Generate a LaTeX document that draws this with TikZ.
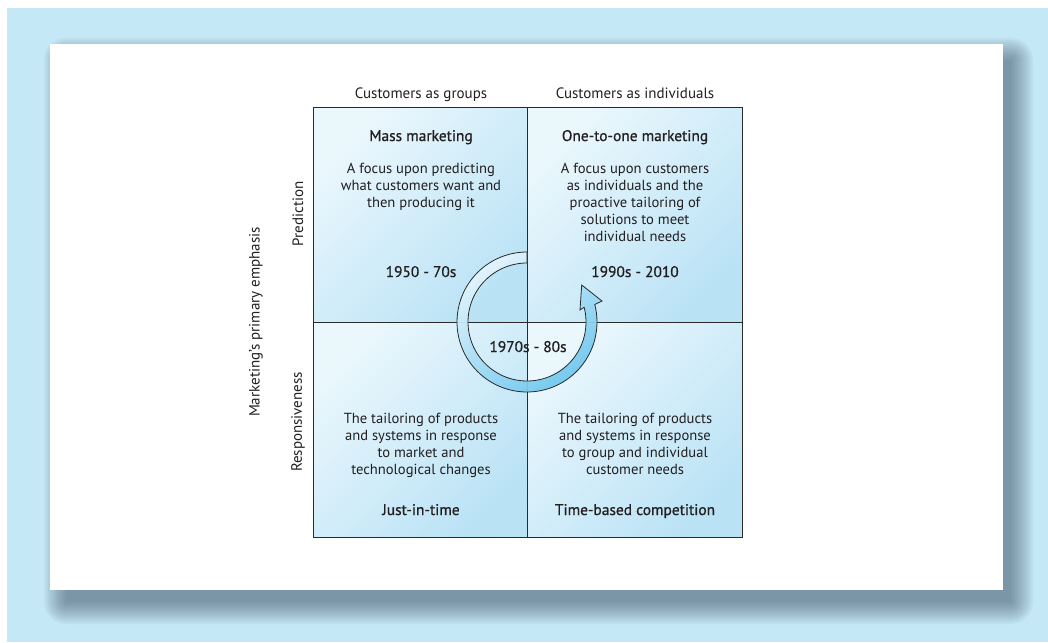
\documentclass[tikz,border=0pt]{standalone}
\usepackage{fontspec}
\setmainfont{PT Sans}
\newfontfamily\hfont[FakeBold=0.8]{PT Sans}
\definecolor{bg}{HTML}{C5E8F7}
\definecolor{shadowc}{HTML}{28394A}
\definecolor{txt}{HTML}{231F20}
\definecolor{qa}{HTML}{EAF7FD}
\definecolor{qb}{HTML}{B5E1F5}
\definecolor{ringa}{HTML}{E4F5FD}
\definecolor{ringb}{HTML}{6CC6EE}
\definecolor{gridc}{HTML}{2A2A2A}
\tikzset{
  lbl/.style={text=txt, font=\fontsize{15}{17}\selectfont, inner sep=0pt, anchor=base},
  body/.style={text=txt, font=\fontsize{14.6}{17}\selectfont, inner sep=0pt, anchor=base, align=center},
  head/.style={text=txt, font=\hfont\fontsize{15.4}{18}\selectfont, inner sep=0pt, anchor=base},
  gridline/.style={draw=gridc, line width=0.8pt},
}
\begin{document}
\begin{tikzpicture}[x=1pt,y=-1pt]
\useasboundingbox (0,0) rectangle (1048,642);
\fill[white] (0,0) rectangle (1048,642);
\fill[bg] (7,8) rectangle (1048,642);
% soft shadow
\foreach \e in {0,2,...,22}
  \fill[shadowc, opacity=0.047, rounded corners=\e pt] ({66-\e},{60-\e}) rectangle ({1011+\e},{602+\e});
\fill[white] (50,44) rectangle (1003,590);
% quadrants
\foreach \xa/\ya/\xb/\yb in {313/107/527/322, 527/107/742/322, 313/322/527/537, 527/322/742/537}
  \shade[top color=qa, bottom color=qb, shading angle=45] (\xa,\ya) rectangle (\xb,\yb);
\begin{scope}
  \clip (313,107) rectangle (742,537);
  \foreach \i in {0,3,...,870}
    \draw[white, opacity=0.22, line width=0.5pt] ({313+\i-430},537) -- ({313+\i},107);
\end{scope}
\draw[gridline] (313,107) rectangle (742,537);
\draw[gridline] (527,107) -- (527,537);
\draw[gridline] (313,322) -- (742,322);
% circular arrow
\shade[draw=gridc, line width=0.8pt, top color=ringa, bottom color=ringb, shading angle=35, fill opacity=0.93]
  plot[domain=270:-14.5, samples=90] ({527+70*cos(\x)},{322+70*sin(\x)})
  -- (602,301) -- (581.7,285) -- (580,310)
  -- plot[domain=-14.5:270, samples=90] ({527+59*cos(\x)},{322+59*sin(\x)}) -- cycle;
% axis labels
\node[lbl] (cg) at (421,98) {Customers as groups};
\node[lbl] (ci) at (635,98) {Customers as individuals};
\node[lbl, rotate=90, anchor=center] (pred) at (298,214) {Prediction};
\node[lbl, rotate=90, anchor=center] (resp) at (298,422) {Responsiveness};
\node[lbl, rotate=90, anchor=center] (mpe) at (256,322) {Marketing’s primary emphasis};
% quadrant texts
\node[head] (mm) at (421,141) {Mass marketing};
\node[body] (mmt) at (421,207) {A focus upon predicting\\what customers want and\\then producing it};
\node[head] (y1) at (421,277) {1950 - 70s};
\node[head] (oo) at (635,141) {One-to-one marketing};
\node[body] (oot) at (635,241) {A focus upon customers\\as individuals and the\\proactive tailoring of\\solutions to meet\\individual needs};
\node[head] (y3) at (635,277) {1990s - 2010};
\node[head] (y2) at (528,352) {1970s - 80s};
\node[body] (jt) at (421,474) {The tailoring of products\\and systems in response\\to market and\\technological changes};
\node[head] (jit) at (421,515) {Just-in-time};
\node[body] (tt) at (635,474) {The tailoring of products\\and systems in response\\to group and individual\\customer needs};
\node[head] (tbc) at (635,515) {Time-based competition};
\end{tikzpicture}
\end{document}
